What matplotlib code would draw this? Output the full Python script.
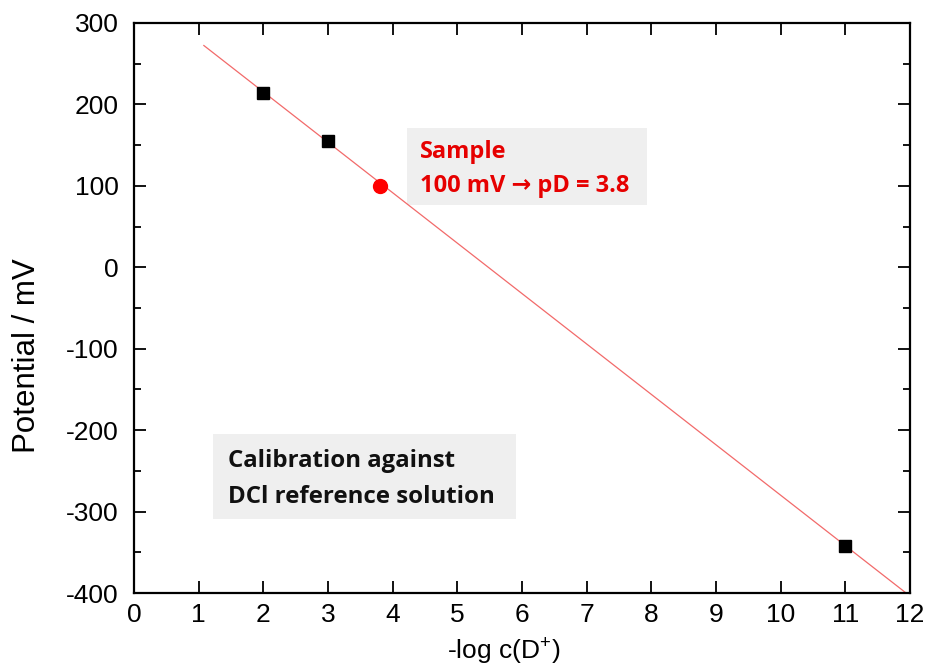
import numpy as np
import matplotlib
matplotlib.use("Agg")
import matplotlib.pyplot as plt
from matplotlib.patches import Rectangle

# Calibration points (DCl reference solutions) and the sample reading
pd_ref = [2, 3, 11]
mv_ref = [214, 155, -342]
pd_sample = 3.8
mv_sample = 100

plt.rcParams['font.family'] = ['Liberation Sans', 'DejaVu Sans']
plt.rcParams['axes.unicode_minus'] = False
plt.rcParams['mathtext.fontset'] = 'custom'
plt.rcParams['mathtext.rm'] = 'Liberation Sans'

fig = plt.figure(figsize=(9.28, 6.64), dpi=100)
ax = fig.add_axes([0.1444, 0.1069, 0.8362, 0.8585])

# Linear fit through the reference points
slope, icpt = np.polyfit(pd_ref, mv_ref, 1)
x_fit = np.linspace(1.08, 12, 50)
ax.plot(x_fit, slope * x_fit + icpt, color='#f26a6a', lw=0.9, zorder=2)

ax.plot(pd_ref, mv_ref, 's', color='black', ms=8, zorder=3)
ax.plot(pd_sample, mv_sample, 'o', color='#ff0000', ms=10, zorder=3)

# Annotation boxes
ax.add_patch(Rectangle((4.22, 76.4), 3.71, 94.6, facecolor='#efefef',
                       edgecolor='none', zorder=1))
ax.add_patch(Rectangle((1.22, -309), 4.68, 104, facecolor='#efefef',
                       edgecolor='none', zorder=1))
note_font = ['Open Sans', 'DejaVu Sans']
ax.text(4.42, 134, "Sample", color='#e60000', fontsize=17, fontweight='bold',
        family=note_font, va='baseline', ha='left', zorder=4)
ax.text(4.42, 92.5, "100 mV \u2192 pD = 3.8", color='#e60000', fontsize=17,
        fontweight='bold', family=note_font, va='baseline', ha='left', zorder=4)
ax.text(1.45, -245, "Calibration against", color='#111111', fontsize=17.3,
        fontweight='bold', family=note_font, va='baseline', ha='left', zorder=4)
ax.text(1.45, -289.5, "DCl reference solution", color='#111111', fontsize=17.3,
        fontweight='bold', family=note_font, va='baseline', ha='left', zorder=4)

ax.set_xlim(0, 12)
ax.set_ylim(-400, 300)
ax.set_xticks(np.arange(0, 13, 1))
ax.set_yticks(np.arange(-400, 301, 100))
ax.set_yticks(np.arange(-350, 300, 100), minor=True)

ax.tick_params(which='both', direction='in', top=True, right=True,
               labelsize=19, width=1.3)
ax.tick_params(which='major', length=8.5, pad=7)
ax.tick_params(which='minor', length=5)
ax.tick_params(axis='y', which='major', pad=11)
for s in ax.spines.values():
    s.set_linewidth(1.6)

fig.text(504 / 928, 1 - 650 / 664, "-log c(D$^{+}$)", fontsize=19,
         ha='center', va='center')
fig.text(27 / 928, 1 - 356 / 664, "Potential / mV", fontsize=22.5,
         rotation=90, ha='center', va='center')

fig.savefig("out.png", dpi=100)
